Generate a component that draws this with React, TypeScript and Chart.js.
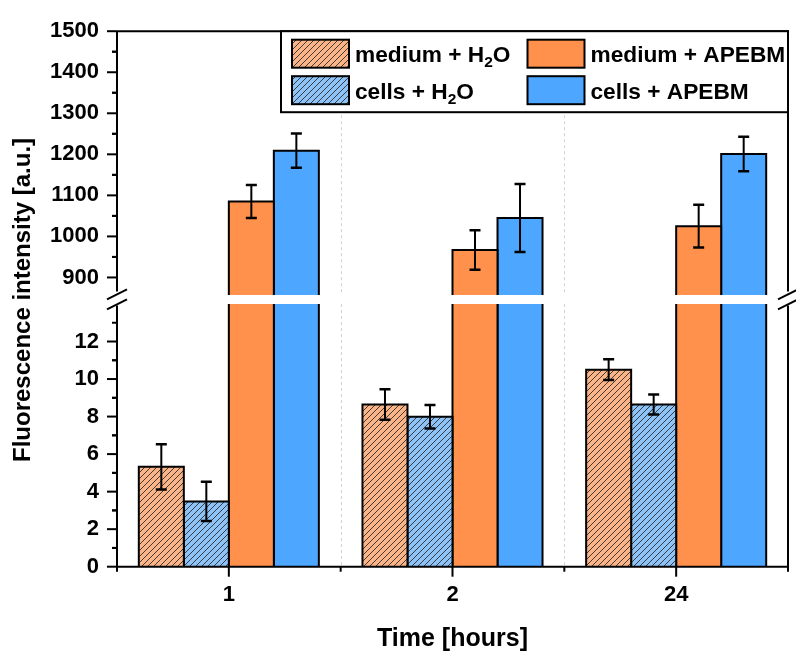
import React, { useEffect, useRef } from 'react';
import { Chart, registerables } from 'chart.js';

Chart.register(...registerables);

// Time points (hours)
const timePoints = ['1', '2', '24'];

// Fluorescence intensity (a.u.) and standard deviations
const mediumH2O = [5.32, 8.64, 10.5];
const mediumH2OErr = [1.2, 0.81, 0.55];
const cellsH2O = [3.48, 7.99, 8.64];
const cellsH2OErr = [1.05, 0.63, 0.53];
const mediumAPEBM = [1085, 967, 1025];
const mediumAPEBMErr = [40, 48, 52];
const cellsAPEBM = [1209, 1045, 1201];
const cellsAPEBMErr = [42, 83, 42];

// Broken y axis: upper and lower segments
const upperRange = [850, 1500];
const lowerRange = [0, 14];
const upperTicks = [900, 1000, 1100, 1200, 1300, 1400, 1500];
const lowerTicks = [0, 2, 4, 6, 8, 10, 12];

const seriesLabels = ['medium + H₂O', 'cells + H₂O', 'medium + APEBM', 'cells + APEBM'];

const FONT = 'Liberation Sans';
const ORANGE = '#FF914D';
const BLUE = '#4DA6FF';
const ORANGE_LIGHT = '#FBB487';
const BLUE_LIGHT = '#8DC3F7';

function hatch(ctx: CanvasRenderingContext2D, bg: string) {
  const s = 6;
  const c = document.createElement('canvas');
  c.width = s;
  c.height = s;
  const g = c.getContext('2d')!;
  g.fillStyle = bg;
  g.fillRect(0, 0, s, s);
  g.strokeStyle = 'rgba(45,45,45,0.9)';
  g.lineWidth = 1;
  g.beginPath();
  g.moveTo(0, s);
  g.lineTo(s, 0);
  g.moveTo(-s / 2, s / 2);
  g.lineTo(s / 2, -s / 2);
  g.moveTo(s / 2, s * 1.5);
  g.lineTo(s * 1.5, s / 2);
  g.stroke();
  return ctx.createPattern(c, 'repeat');
}

function line(ctx: CanvasRenderingContext2D, x1: number, y1: number, x2: number, y2: number) {
  ctx.beginPath();
  ctx.moveTo(x1, y1);
  ctx.lineTo(x2, y2);
  ctx.stroke();
}

function drawLabel(ctx: CanvasRenderingContext2D, text: string, x: number, y: number) {
  const parts = text.split('₂');
  let cx = x;
  parts.forEach((p, k) => {
    if (k > 0) {
      ctx.font = `bold 15.5px "${FONT}"`;
      ctx.fillText('2', cx, y + 5);
      cx += ctx.measureText('2').width;
    }
    ctx.font = `bold 22.7px "${FONT}"`;
    ctx.fillText(p, cx, y);
    cx += ctx.measureText(p).width;
  });
}

const brokenAxisPlugin = {
  id: 'brokenAxis',
  afterLayout(chart: any) {
    const t = chart.scales.yTop;
    const b = chart.scales.yBottom;
    t.bottom -= 3;
    t.height = t.bottom - t.top;
    t.configure();
    b.top += 3;
    b.height = b.bottom - b.top;
    b.configure();
  },
  beforeDatasetsDraw(chart: any) {
    const { ctx, scales } = chart;
    const x = scales.x;
    ctx.save();
    ctx.strokeStyle = '#d2d2d2';
    ctx.lineWidth = 1;
    ctx.setLineDash([3, 3]);
    for (let i = 0; i < x.ticks.length - 1; i++) {
      const px = Math.round((x.getPixelForTick(i) + x.getPixelForTick(i + 1)) / 2) + 0.5;
      for (const s of [scales.yTop, scales.yBottom]) line(ctx, px, s.top, px, s.bottom);
    }
    ctx.restore();
  },
  beforeDatasetDraw(chart: any, args: any) {
    const { ctx, chartArea: a } = chart;
    const s = chart.scales[args.meta.yAxisID];
    ctx.save();
    ctx.beginPath();
    ctx.rect(a.left, s.top, a.right - a.left, s.bottom - s.top);
    ctx.clip();
  },
  afterDatasetDraw(chart: any, args: any) {
    const ctx = chart.ctx;
    ctx.strokeStyle = '#000';
    ctx.lineWidth = 2;
    ctx.setLineDash([]);
    for (const el of args.meta.data) {
      const l = el.x - el.width / 2;
      const r = el.x + el.width / 2;
      ctx.beginPath();
      ctx.moveTo(l, el.base);
      ctx.lineTo(l, el.y);
      ctx.lineTo(r, el.y);
      ctx.lineTo(r, el.base);
      ctx.stroke();
    }
    ctx.restore();
  },
  afterDatasetsDraw(chart: any) {
    const { ctx, chartArea: a, scales } = chart;
    const yTop = scales.yTop;
    const yBottom = scales.yBottom;
    const x = scales.x;

    // error bars
    chart.data.datasets.forEach((ds: any, i: number) => {
      const meta = chart.getDatasetMeta(i);
      const s = scales[meta.yAxisID];
      ctx.save();
      ctx.beginPath();
      ctx.rect(a.left, s.top, a.right - a.left, s.bottom - s.top);
      ctx.clip();
      ctx.strokeStyle = '#000';
      meta.data.forEach((el: any, j: number) => {
        const v = ds.data[j];
        const e = ds.errors[j];
        const hi = s.getPixelForValue(v + e);
        const lo = s.getPixelForValue(v - e);
        ctx.lineWidth = 2;
        line(ctx, el.x, hi, el.x, lo);
        ctx.lineWidth = 2.5;
        line(ctx, el.x - 5.5, hi, el.x + 5.5, hi);
        line(ctx, el.x - 5.5, lo, el.x + 5.5, lo);
      });
      ctx.restore();
    });

    // gap between the two segments
    const bandTop = yTop.bottom - 3;
    const bandBot = yBottom.top;
    const mid = (bandTop + bandBot) / 2;
    ctx.save();
    ctx.fillStyle = '#fff';
    ctx.fillRect(a.left + 1, bandTop, a.right - a.left - 2, bandBot - bandTop);

    // frame
    ctx.strokeStyle = '#000';
    ctx.lineWidth = 2;
    ctx.lineCap = 'butt';
    line(ctx, a.left, a.top, a.right + 1, a.top);
    line(ctx, a.left - 1, a.bottom, a.right + 1, a.bottom);
    for (const ax of [a.left, a.right]) {
      line(ctx, ax, a.top, ax, mid - 8);
      line(ctx, ax, mid + 6, ax, a.bottom);
      for (const dy of [-5, 5]) line(ctx, ax - 10, mid + dy + 5, ax + 10, mid + dy - 5);
    }

    // y ticks (major outward 10px, minor 5px)
    const yTicks = (s: any, values: number[]) => {
      const [mn, mx] = [s.min, s.max];
      values.forEach((v) => {
        const py = s.getPixelForValue(v);
        line(ctx, a.left - 10, py, a.left, py);
      });
      const step = values[1] - values[0];
      for (let k = 0; k < values.length; k++) {
        for (const m of [values[k] - step / 2, values[k] + step / 2]) {
          if (m > mn + 1e-9 && m < mx - 1e-9 && (k === 0 || m > values[k - 1] + step / 2 - 1e-9)) {
            const py = s.getPixelForValue(m);
            line(ctx, a.left - 5, py, a.left, py);
          }
        }
      }
    };
    yTicks(yTop, upperTicks);
    yTicks(yBottom, lowerTicks);

    // x ticks: major at categories, minor at boundaries
    const n = x.ticks.length;
    const centers: number[] = [];
    for (let i = 0; i < n; i++) centers.push(x.getPixelForTick(i));
    centers.forEach((px) => line(ctx, px, a.bottom, px, a.bottom + 10));
    const bounds = [a.left, a.right];
    for (let i = 0; i < n - 1; i++) bounds.push((centers[i] + centers[i + 1]) / 2);
    bounds.forEach((px) => line(ctx, px, a.bottom, px, a.bottom + 5));

    // legend
    const boxW = 507;
    const boxH = 81;
    const bx = a.right - boxW;
    const by = a.top;
    ctx.fillStyle = '#fff';
    ctx.fillRect(bx, by, boxW, boxH);
    ctx.strokeRect(bx, by, boxW, boxH);
    const colX = [11, 246.5];
    const rowY = [8.5, 45];
    ctx.textAlign = 'left';
    ctx.textBaseline = 'alphabetic';
    for (let i = 0; i < 4; i++) {
      const ds = chart.data.datasets[i];
      const sx = bx + colX[i >= 2 ? 1 : 0];
      const sy = by + rowY[i % 2];
      ctx.fillStyle = ds.backgroundColor;
      ctx.fillRect(sx, sy, 57, 28);
      ctx.lineWidth = 2;
      ctx.strokeRect(sx, sy, 57, 28);
      ctx.fillStyle = '#000';
      drawLabel(ctx, ds.label, sx + 63, sy + 22.3);
    }

    // y axis title
    ctx.translate(23, (a.top + a.bottom) / 2 + 1);
    ctx.rotate(-Math.PI / 2);
    ctx.textAlign = 'center';
    ctx.textBaseline = 'middle';
    ctx.font = `bold 24px "${FONT}"`;
    ctx.fillStyle = '#000';
    ctx.fillText('Fluorescence intensity [a.u.]', 0, 0);
    ctx.restore();
  },
};

export default function App() {
  const ref = useRef<HTMLCanvasElement>(null);

  useEffect(() => {
    const canvas = ref.current!;
    const ctx = canvas.getContext('2d')!;
    const hatchOrange = hatch(ctx, ORANGE_LIGHT);
    const hatchBlue = hatch(ctx, BLUE_LIGHT);
    const tickFont = { family: FONT, size: 22, weight: 'bold' as const };
    const plain = (v: any) => String(v);
    const noGrid = { display: false, drawTicks: false };

    const chart = new Chart(ctx, {
      type: 'bar',
      data: {
        labels: timePoints,
        datasets: [
          { label: seriesLabels[0], data: mediumH2O, errors: mediumH2OErr, yAxisID: 'yBottom', stack: 'a', backgroundColor: hatchOrange },
          { label: seriesLabels[1], data: cellsH2O, errors: cellsH2OErr, yAxisID: 'yBottom', stack: 'b', backgroundColor: hatchBlue },
          { label: seriesLabels[2], data: mediumAPEBM, errors: mediumAPEBMErr, yAxisID: 'yBottom', stack: 'c', backgroundColor: ORANGE },
          { label: seriesLabels[3], data: cellsAPEBM, errors: cellsAPEBMErr, yAxisID: 'yBottom', stack: 'd', backgroundColor: BLUE },
          { label: seriesLabels[2], data: mediumAPEBM, errors: mediumAPEBMErr, yAxisID: 'yTop', stack: 'c', backgroundColor: ORANGE },
          { label: seriesLabels[3], data: cellsAPEBM, errors: cellsAPEBMErr, yAxisID: 'yTop', stack: 'd', backgroundColor: BLUE },
        ] as any,
      },
      options: {
        responsive: false,
        animation: false,
        layout: { padding: { top: 26, right: 8, left: 0, bottom: 0 } },
        datasets: { bar: { barPercentage: 1, categoryPercentage: 0.805, borderWidth: 0 } },
        plugins: { legend: { display: false }, tooltip: { enabled: false } },
        scales: {
          x: {
            type: 'category',
            offset: true,
            grid: noGrid,
            border: { display: false },
            ticks: { color: '#000', font: tickFont, padding: 15 },
            title: {
              display: true,
              text: 'Time [hours]',
              color: '#000',
              font: { family: FONT, size: 25, weight: 'bold' },
              padding: { top: 0, bottom: 1 },
            },
            afterFit: (s: any) => {
              s.height = 88.3;
            },
          },
          yBottom: {
            type: 'linear',
            position: 'left',
            stack: 'panels',
            stackWeight: 268.3,
            weight: 0,
            stacked: false,
            min: lowerRange[0],
            max: lowerRange[1],
            afterBuildTicks: (s: any) => {
              s.ticks = lowerTicks.map((v) => ({ value: v }));
            },
            grid: noGrid,
            border: { display: false },
            ticks: { color: '#000', font: tickFont, padding: 18, autoSkip: false, callback: plain },
            afterFit: (s: any) => {
              s.width = 117;
            },
          },
          yTop: {
            type: 'linear',
            position: 'left',
            stack: 'panels',
            stackWeight: 272.4,
            weight: 1,
            stacked: false,
            min: upperRange[0],
            max: upperRange[1],
            afterBuildTicks: (s: any) => {
              s.ticks = upperTicks.map((v) => ({ value: v }));
            },
            grid: noGrid,
            border: { display: false },
            ticks: { color: '#000', font: tickFont, padding: 18, autoSkip: false, callback: plain },
            afterFit: (s: any) => {
              s.width = 117;
            },
          },
        } as any,
      },
      plugins: [brokenAxisPlugin],
    });

    return () => chart.destroy();
  }, []);

  return (
    <div style={{ position: 'absolute', left: 0, top: 0, width: 796, height: 655, background: '#fff' }}>
      <canvas ref={ref} width={796} height={655} style={{ display: 'block' }} />
    </div>
  );
}
